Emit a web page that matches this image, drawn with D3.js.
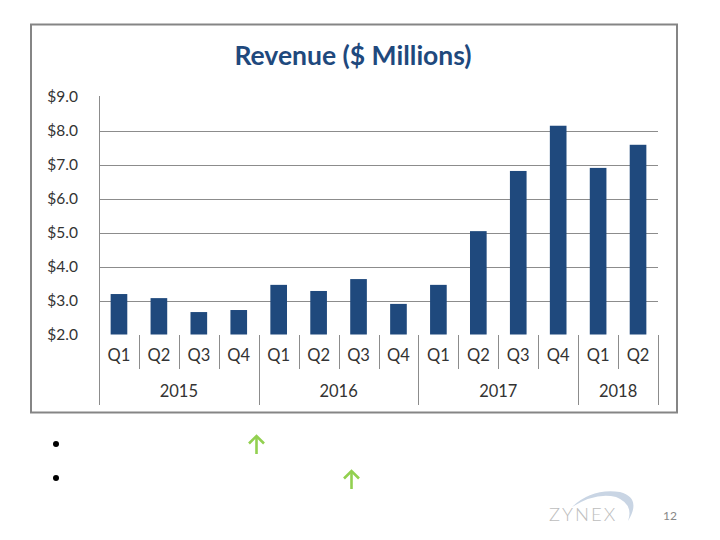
<!DOCTYPE html>
<html>
<head>
<meta charset="utf-8">
<script src="https://cdn.jsdelivr.net/npm/d3@7"></script>
<style>
  html, body { margin: 0; padding: 0; background: #ffffff; }
  svg { display: block; }
</style>
</head>
<body>
<svg id="chart" width="720" height="540"></svg>
<script>
// ---- data ----
const years = ["2015", "2015", "2015", "2015", "2016", "2016", "2016", "2016", "2017", "2017", "2017", "2017", "2018", "2018"];
const quarters = ["Q1", "Q2", "Q3", "Q4", "Q1", "Q2", "Q3", "Q4", "Q1", "Q2", "Q3", "Q4", "Q1", "Q2"];
const revenue = [3.19, 3.07, 2.66, 2.72, 3.46, 3.28, 3.63, 2.90, 3.46, 5.04, 6.81, 8.14, 6.90, 7.58];
const yearLabels = ["2015", "2016", "2017", "2018"];
const yTicks = [2, 3, 4, 5, 6, 7, 8, 9];
const chartTitle = "Revenue ($ Millions)";

const svg = d3.select("#chart");
const font = "Lato, 'Open Sans', sans-serif";

// frame
svg.append("rect")
  .attr("x", 31).attr("y", 24.5).attr("width", 646).attr("height", 388)
  .attr("fill", "#fff").attr("stroke", "#858585").attr("stroke-width", 2);

// title
svg.append("text")
  .attr("x", 353).attr("y", 65)
  .attr("text-anchor", "middle")
  .attr("font-family", font).attr("font-weight", "bold")
  .attr("font-size", 26.5)
  .attr("fill", "#1F497D")
  .text(chartTitle);

const keys = years.map((y, i) => y + "-" + quarters[i]);
const left = 99, right = 658;
const x = d3.scaleBand().domain(keys).range([left, right])
  .paddingInner(0.583).paddingOuter(0.2915);
const y = d3.scaleLinear().domain([2, 9]).range([334.5, 96.5]);
const step = x.step();

// gridlines
svg.append("g").selectAll("line")
  .data(yTicks.filter(t => t > 2 && t < 9))
  .join("line")
  .attr("x1", left).attr("x2", right)
  .attr("y1", d => Math.round(y(d)) + 0.5).attr("y2", d => Math.round(y(d)) + 0.5)
  .attr("stroke", "#8c8c8c").attr("stroke-width", 1);

// y tick labels
svg.append("g").selectAll("text")
  .data(yTicks)
  .join("text")
  .attr("x", 78).attr("y", d => y(d))
  .attr("dy", "0.36em")
  .attr("text-anchor", "end")
  .attr("font-family", font).attr("font-size", 15.5)
  .attr("fill", "#333")
  .text(d => "$" + d3.format(".1f")(d));

// bars
svg.append("g").selectAll("rect")
  .data(revenue)
  .join("rect")
  .attr("x", (d, i) => x(keys[i]))
  .attr("width", x.bandwidth())
  .attr("y", d => y(d))
  .attr("height", d => y(2) - y(d))
  .attr("fill", "#1F497D");

// vertical axis line
svg.append("line")
  .attr("x1", left + 0.5).attr("x2", left + 0.5)
  .attr("y1", 96).attr("y2", 405)
  .attr("stroke", "#8c8c8c");

// category separators
const sepData = d3.range(1, keys.length + 1).map(i => ({
  i, long: i === keys.length || years[i] !== years[i - 1]
}));
svg.append("g").selectAll("line")
  .data(sepData)
  .join("line")
  .attr("x1", d => Math.round(left + d.i * step) + 0.5)
  .attr("x2", d => Math.round(left + d.i * step) + 0.5)
  .attr("y1", 335)
  .attr("y2", d => d.long ? 405 : 369)
  .attr("stroke", "#8c8c8c");

// quarter labels
svg.append("g").selectAll("text")
  .data(quarters)
  .join("text")
  .attr("x", (d, i) => x(keys[i]) + x.bandwidth() / 2)
  .attr("y", 355).attr("dy", "0.36em")
  .attr("text-anchor", "middle")
  .attr("font-family", font).attr("font-size", 16.5)
  .attr("fill", "#333")
  .text(d => d);

// year labels
svg.append("g").selectAll("text")
  .data(yearLabels)
  .join("text")
  .attr("x", yr => {
    const idx = years.map((v, i) => v === yr ? i : -1).filter(i => i >= 0);
    return left + (idx[0] + idx[idx.length - 1] + 1) / 2 * step;
  })
  .attr("y", 391).attr("dy", "0.36em")
  .attr("text-anchor", "middle")
  .attr("font-family", font).attr("font-size", 16.5)
  .attr("fill", "#333")
  .text(d => d);

// bullets
[444, 478].forEach(cy => {
  svg.append("circle").attr("cx", 56).attr("cy", cy).attr("r", 3).attr("fill", "#000");
});

// green up arrows
[[256.5, 436, 454], [351.5, 471, 489]].forEach(([ax, top, bot]) => {
  const g = svg.append("g").attr("stroke", "#92D050").attr("stroke-width", 2.6).attr("fill", "none");
  g.append("line").attr("x1", ax).attr("x2", ax).attr("y1", top + 1).attr("y2", bot);
  g.append("path").attr("d", `M${ax - 7.5},${top + 7.5} L${ax},${top} L${ax + 7.5},${top + 7.5}`);
});

// logo
svg.append("path")
  .attr("d", "M572,507 Q592,488 620,492 Q642,498 628,521 Q634,504 616,497 Q596,492 572,507 Z")
  .attr("fill", "#c9d5e4");
svg.append("text")
  .attr("x", 549).attr("y", 521)
  .attr("font-family", font).attr("font-size", 18.5).attr("font-weight", 300)
  .attr("letter-spacing", 2)
  .attr("fill", "#bdbdbd")
  .text("ZYNEX");

// page number
svg.append("text")
  .attr("x", 677).attr("y", 520)
  .attr("text-anchor", "end")
  .attr("font-family", font).attr("font-size", 12)
  .attr("fill", "#888")
  .text("12");
</script>
</body>
</html>
